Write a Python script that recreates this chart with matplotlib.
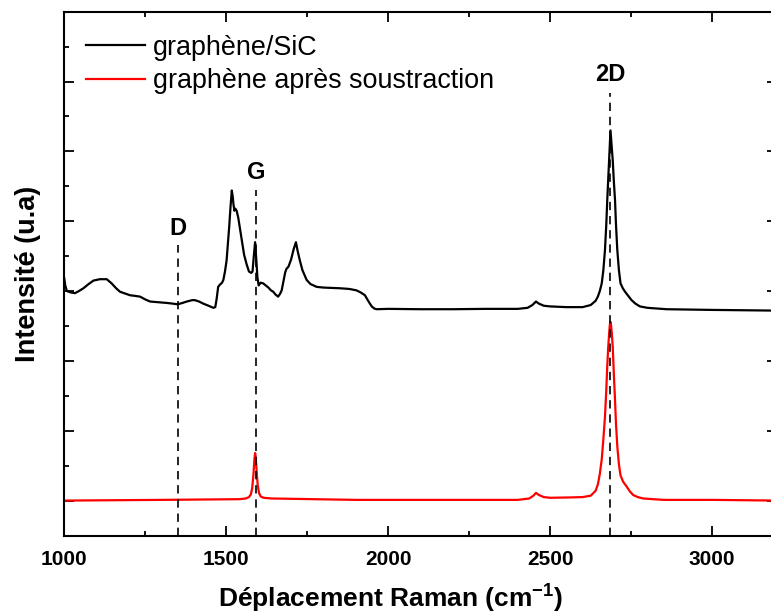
import matplotlib
matplotlib.use("Agg")
import matplotlib.pyplot as plt
from matplotlib.ticker import MultipleLocator, NullFormatter

plt.rcParams['font.family'] = ['Liberation Sans', 'DejaVu Sans']
plt.rcParams['mathtext.fontset'] = 'custom'
plt.rcParams['mathtext.rm'] = 'Liberation Sans'
plt.rcParams['mathtext.bf'] = 'Liberation Sans:bold'

# --- data (Raman shift in cm-1, intensity in a.u.) ---
sic_x = [1000, 1003, 1008, 1020, 1033, 1045, 1059, 1075, 1090, 1110, 1131, 1146,
         1160, 1172, 1190, 1203, 1220, 1234, 1250, 1265, 1290, 1316, 1335, 1350,
         1365, 1378, 1395, 1403, 1416, 1429, 1445, 1460, 1466, 1470, 1475, 1480,
         1487, 1491, 1496, 1501, 1505, 1509, 1513, 1517, 1520, 1522, 1525, 1528,
         1532, 1537, 1542, 1548, 1555, 1563, 1570, 1577, 1581, 1585, 1589, 1592,
         1596, 1600, 1606, 1614, 1622, 1630, 1638, 1645, 1652, 1660, 1666, 1671,
         1677, 1682, 1686, 1692, 1700, 1708, 1715, 1720, 1727, 1735, 1748, 1760,
         1779, 1800, 1830, 1851, 1880, 1902, 1915, 1928, 1938, 1949, 1957, 1964,
         2000, 2100, 2200, 2300, 2400, 2430, 2445, 2456, 2465, 2480, 2500, 2550,
         2600, 2625, 2640, 2647, 2653, 2659, 2664, 2669, 2673, 2676, 2679, 2682,
         2684, 2686, 2688, 2690, 2693, 2696, 2700, 2703, 2707, 2712, 2717, 2724,
         2731, 2741, 2751, 2763, 2777, 2800, 2859, 3000, 3200]
sic_y = [3.18, 3.08, 3.00, 2.98, 2.97, 3.00, 3.04, 3.10, 3.15, 3.17, 3.17, 3.11,
         3.04, 2.99, 2.96, 2.94, 2.93, 2.92, 2.88, 2.85, 2.84, 2.83, 2.82, 2.81,
         2.83, 2.85, 2.87, 2.87, 2.85, 2.82, 2.79, 2.76, 2.77, 2.88, 3.06, 3.09,
         3.12, 3.16, 3.28, 3.44, 3.68, 3.92, 4.20, 4.44, 4.35, 4.25, 4.15, 4.18,
         4.15, 4.05, 3.90, 3.72, 3.52, 3.38, 3.28, 3.26, 3.28, 3.50, 3.70, 3.50,
         3.20, 3.08, 3.12, 3.11, 3.08, 3.05, 3.01, 2.99, 2.95, 2.92, 2.96, 3.01,
         3.15, 3.27, 3.32, 3.35, 3.45, 3.60, 3.70, 3.58, 3.44, 3.30, 3.16, 3.10,
         3.06, 3.05, 3.045, 3.04, 3.03, 3.01, 2.98, 2.94, 2.86, 2.78, 2.75, 2.74,
         2.745, 2.74, 2.74, 2.745, 2.745, 2.76, 2.80, 2.85, 2.82, 2.79, 2.78, 2.77,
         2.77, 2.80, 2.86, 2.92, 3.00, 3.11, 3.30, 3.59, 3.95, 4.30, 4.60, 4.87,
         5.12, 5.30, 5.18, 5.05, 4.87, 4.60, 4.30, 3.95, 3.59, 3.30, 3.11, 3.04,
         2.99, 2.93, 2.87, 2.82, 2.78, 2.76, 2.74, 2.73, 2.72]

sub_x = [1000, 1300, 1540, 1560, 1570, 1576, 1580, 1584, 1587, 1589, 1591, 1594,
         1597, 1601, 1606, 1615, 1640, 1900, 2400, 2435, 2448, 2456, 2465, 2480,
         2500, 2560, 2600, 2625, 2640, 2647, 2653, 2659, 2664, 2669, 2673, 2676,
         2679, 2682, 2684, 2686, 2688, 2690, 2693, 2696, 2700, 2703, 2707, 2712,
         2717, 2725, 2736, 2746, 2756, 2770, 2787, 2850, 3000, 3200]
sub_y = [0.00, 0.01, 0.02, 0.03, 0.05, 0.09, 0.18, 0.38, 0.60, 0.68, 0.62, 0.40,
         0.22, 0.11, 0.06, 0.04, 0.03, 0.01, 0.01, 0.03, 0.07, 0.11, 0.08, 0.05,
         0.04, 0.045, 0.05, 0.07, 0.14, 0.23, 0.38, 0.59, 0.88, 1.20, 1.58, 1.92,
         2.20, 2.40, 2.52, 2.56, 2.50, 2.40, 2.20, 1.85, 1.44, 1.10, 0.78, 0.52,
         0.36, 0.27, 0.20, 0.13, 0.08, 0.05, 0.03, 0.01, 0.01, 0.00]

peak_names = ["D", "G", "2D"]
peak_pos = [1350, 1592, 2685]
peak_line_top = [3.66, 4.44, 5.83]
peak_label_y = [3.90, 4.70, 6.10]

series_labels = ["graphène/SiC", "graphène après soustraction"]
x_ticks = [1000, 1500, 2000, 2500, 3000]

# --- figure ---
W, H, DPI = 771, 614, 100
fig = plt.figure(figsize=(W / DPI, H / DPI), dpi=DPI)
ax = fig.add_axes([64.3 / W, (H - 535.5) / H, (777 - 64.3) / W, (535.5 - 11.7) / H])

ax.plot(sic_x, sic_y, color='black', lw=1.6, label=series_labels[0])
ax.plot(sub_x, sub_y, color='#ff0000', lw=1.6, label=series_labels[1])

for name, px, top, ly in zip(peak_names, peak_pos, peak_line_top, peak_label_y):
    ax.plot([px, px], [-0.5, top], color='black', lw=1.2, ls=(0, (5, 3.5)))
    ax.text(px, ly, name, ha='center', va='center', fontsize=17, fontweight='bold')

ax.set_xlim(1000, 3200)
ax.set_ylim(-0.5, 7.0)
ax.set_xticks(x_ticks)
ax.xaxis.set_minor_locator(MultipleLocator(250))
ax.yaxis.set_major_locator(MultipleLocator(1))
ax.yaxis.set_minor_locator(MultipleLocator(0.5))
ax.yaxis.set_major_formatter(NullFormatter())

for s in ax.spines.values():
    s.set_linewidth(1.5)
ax.tick_params(which='both', direction='in', top=True, right=True, width=1.3)
ax.tick_params(which='major', length=7, labelsize=15, pad=10.5)
ax.tick_params(which='minor', length=3.5)
for lab in ax.get_xticklabels():
    lab.set_fontweight('bold')

ax.set_xlabel("Déplacement Raman (cm$^{\\mathbf{-1}}$)", fontsize=19, fontweight='bold')
ax.xaxis.set_label_coords(0.458, -0.119)
ax.xaxis.label.set_va('center')
ax.set_ylabel("Intensité (u.a)", fontsize=19.5, fontweight='bold', labelpad=6)

leg = ax.legend(loc='upper left', frameon=False, fontsize=19.4, handlelength=2.2,
                handletextpad=0.3, labelspacing=0.28, borderaxespad=0.4,
                bbox_to_anchor=(0.0, 0.997))

fig.savefig("out.png", dpi=DPI)
